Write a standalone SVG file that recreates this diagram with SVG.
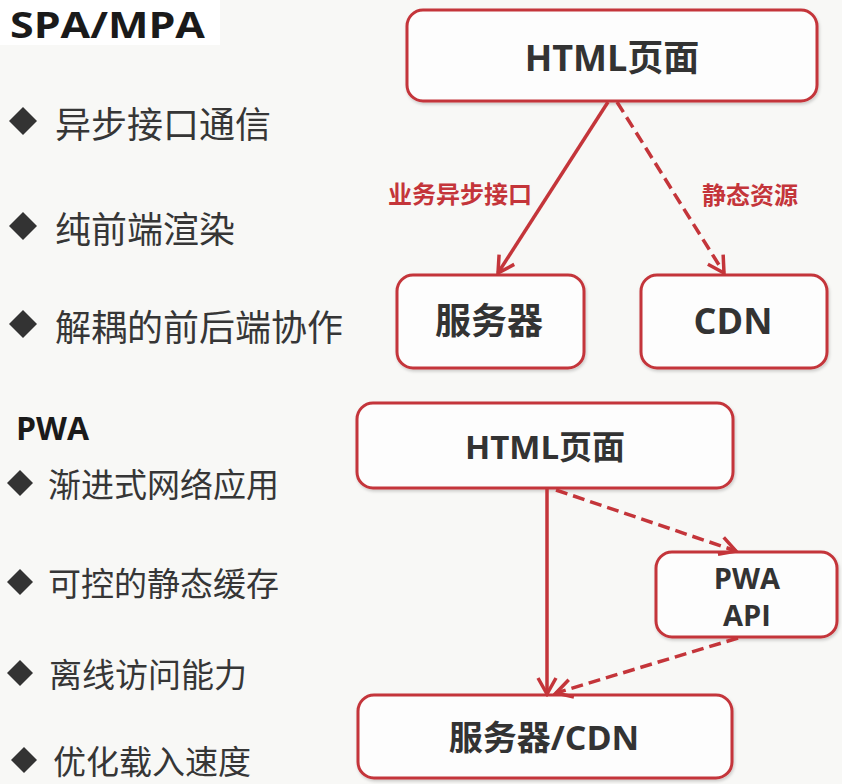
<svg xmlns="http://www.w3.org/2000/svg" width="842" height="784" viewBox="0 0 842 784">
<defs>
<style>
.box{fill:#fdfdfd;stroke:#c4353a;stroke-width:3;}
.lbl{font-family:"Open Sans","Liberation Sans","Noto Sans CJK SC",sans-serif;font-weight:bold;fill:#333;text-anchor:middle;dominant-baseline:central;}
.red{font-family:"Noto Sans CJK SC",sans-serif;font-weight:bold;fill:#c4353a;font-size:24px;dominant-baseline:central;}
.head{font-family:"Open Sans","Liberation Sans",sans-serif;font-weight:bold;fill:#1a1a1a;}
.item{font-family:"Noto Sans CJK SC",sans-serif;fill:#363636;dominant-baseline:central;}
.dia{fill:#333;}
.ln{stroke:#c4353a;stroke-width:3.5;fill:none;}
.dash{stroke-dasharray:12 6;}
</style>
<marker id="arr" viewBox="0 0 24 24" refX="21" refY="12" markerWidth="24" markerHeight="24" markerUnits="userSpaceOnUse" orient="auto">
<path d="M5,3 L21,12 L5,21" fill="none" stroke="#c4353a" stroke-width="3.5"/>
</marker>
<filter id="sh" x="-10%" y="-10%" width="120%" height="130%">
<feDropShadow dx="1" dy="2" stdDeviation="1.5" flood-color="#000" flood-opacity="0.18"/>
</filter>
</defs>
<rect width="842" height="784" fill="#f8f8f6"/>
<rect width="220" height="45" fill="#ffffff"/>

<g id="left-top">
<text class="head" x="10" y="38" font-size="35" textLength="195" lengthAdjust="spacingAndGlyphs">SPA/MPA</text>
<path class="dia" d="M23,107 L37,121 L23,135 L9,121 Z"/>
<text class="item" x="55" y="122" font-size="36">异步接口通信</text>
<path class="dia" d="M23,212 L37,226 L23,240 L9,226 Z"/>
<text class="item" x="55" y="227" font-size="36">纯前端渲染</text>
<path class="dia" d="M23,310 L37,324 L23,338 L9,324 Z"/>
<text class="item" x="55" y="325" font-size="36">解耦的前后端协作</text>
</g>

<g id="left-bottom">
<text class="head" x="16" y="440" font-size="32">PWA</text>
<path class="dia" d="M20,470 L33,483 L20,496 L7,483 Z"/>
<text class="item" x="48" y="483" font-size="33">渐进式网络应用</text>
<path class="dia" d="M20,569 L33,582 L20,595 L7,582 Z"/>
<text class="item" x="48" y="582" font-size="33">可控的静态缓存</text>
<path class="dia" d="M20,660 L33,673 L20,686 L7,673 Z"/>
<text class="item" x="49" y="673" font-size="33">离线访问能力</text>
<path class="dia" d="M24,747 L37,760 L24,773 L11,760 Z"/>
<text class="item" x="53" y="760" font-size="33">优化载入速度</text>
</g>

<g id="html-top">
<rect class="box" x="407" y="10" width="410" height="91" rx="16" filter="url(#sh)"/>
<text class="lbl" x="612" y="57" font-size="36">HTML页面</text>
</g>
<g id="server-top">
<rect class="box" x="397" y="275" width="187" height="93" rx="16" filter="url(#sh)"/>
<text class="lbl" x="489" y="320" font-size="36">服务器</text>
</g>
<g id="cdn-top">
<rect class="box" x="641" y="275" width="186" height="93" rx="16" filter="url(#sh)"/>
<text class="lbl" x="733" y="320" font-size="36">CDN</text>
</g>

<g id="html-bottom">
<rect class="box" x="357" y="403" width="376" height="85" rx="16" filter="url(#sh)"/>
<text class="lbl" x="545" y="446" font-size="33">HTML页面</text>
</g>
<g id="pwa-api">
<rect class="box" x="656" y="552" width="181" height="85" rx="16" filter="url(#sh)"/>
<text class="lbl" x="747" y="577" font-size="29">PWA</text>
<text class="lbl" x="747" y="614" font-size="29">API</text>
</g>
<g id="server-cdn">
<rect class="box" x="358" y="695" width="374" height="83" rx="16" filter="url(#sh)"/>
<text class="lbl" x="544" y="737" font-size="34">服务器/CDN</text>
</g>

<g id="connectors">
<line class="ln" x1="608" y1="102" x2="498" y2="273" marker-end="url(#arr)"/>
<line class="ln dash" x1="617" y1="102" x2="724" y2="273" marker-end="url(#arr)"/>
<text class="red" x="388" y="192">业务异步接口</text>
<text class="red" x="702" y="193">静态资源</text>
<line class="ln" x1="547" y1="489" x2="547" y2="694" marker-end="url(#arr)"/>
<line class="ln dash" x1="556" y1="490" x2="736" y2="551" marker-end="url(#arr)"/>
<line class="ln dash" x1="738" y1="638" x2="556" y2="693" marker-end="url(#arr)"/>
</g>
</svg>
